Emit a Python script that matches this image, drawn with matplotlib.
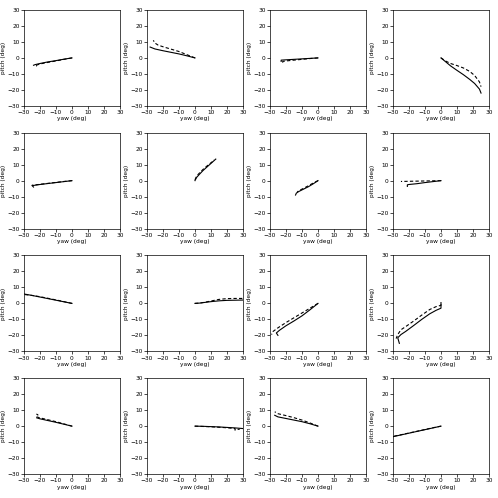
import matplotlib
matplotlib.use("Agg")
import matplotlib.pyplot as plt

# Each panel: (solid_x, solid_y, dashed_x, dashed_y)
p1_sx = [0, -5, -10, -15, -20, -23, -24]
p1_sy = [0, -0.8, -1.7, -2.5, -3.5, -4.2, -4.6]
p1_dx = [0, -5, -10, -15, -20, -22, -23, -22]
p1_dy = [0, -0.9, -1.9, -2.8, -3.8, -4.5, -5.0, -5.2]

p2_sx = [0, -5, -10, -15, -20, -25, -28]
p2_sy = [0, 1.3, 2.5, 3.5, 4.5, 5.6, 6.8]
p2_dx = [0, -5, -10, -15, -20, -23, -25, -26]
p2_dy = [0, 2.0, 4.0, 5.5, 7.0, 8.0, 9.3, 11.0]

p3_sx = [0, -5, -10, -15, -20, -23, -23]
p3_sy = [0, -0.3, -0.6, -0.9, -1.2, -1.4, -2.2]
p3_dx = [0, -5, -10, -15, -20, -22, -22]
p3_dy = [0, -0.4, -0.9, -1.4, -1.9, -2.2, -3.2]

p4_sx = [0, 3, 6, 10, 14, 18, 21, 24, 25]
p4_sy = [0, -2.5, -5.0, -7.8, -10.5, -13.5, -16.0, -19.5, -22.0]
p4_dx = [0, 3, 6, 10, 14, 18, 21, 24, 25]
p4_dy = [0, -2.0, -3.5, -4.8, -6.3, -8.5, -11.0, -15.0, -18.0]

p5_sx = [0, -5, -10, -15, -20, -24, -25, -24]
p5_sy = [0, -0.6, -1.2, -1.8, -2.4, -3.0, -3.0, -4.0]
p5_dx = [0, -5, -10, -15, -20, -25]
p5_dy = [0, -0.5, -1.1, -1.7, -2.3, -2.9]

p6_sx = [0, 1, 3, 5, 8, 11, 13]
p6_sy = [0, 2.0, 4.2, 6.3, 9.0, 11.7, 13.5]
p6_dx = [0, 1, 3, 5, 8, 11, 12]
p6_dy = [0.5, 2.8, 5.0, 7.0, 9.6, 12.0, 13.0]

p7_sx = [0, -3, -6, -9, -12, -13.5, -14]
p7_sy = [0, -2.0, -3.8, -5.3, -6.8, -7.8, -9.0]
p7_dx = [0, -3, -6, -9, -12, -13]
p7_dy = [0, -1.5, -3.2, -4.8, -6.3, -7.2]

p8_sx = [0, -5, -10, -15, -20, -21, -21]
p8_sy = [0, -0.6, -1.2, -1.9, -2.4, -2.6, -3.6]
p8_dx = [0, -5, -10, -15, -20, -25]
p8_dy = [0, -0.1, -0.2, -0.3, -0.4, -0.5]

p9_sx = [0, -5, -10, -15, -20, -25, -30]
p9_sy = [0, 1.0, 2.0, 3.0, 4.0, 5.0, 5.9]
p9_dx = [0, -5, -10, -15, -20, -25, -30]
p9_dy = [0, 1.1, 2.2, 3.2, 4.2, 5.0, 5.6]

p10_sx = [0, 3, 6, 10, 15, 20, 25, 30]
p10_sy = [0, 0.2, 0.6, 1.1, 1.6, 1.9, 2.0, 2.1]
p10_dx = [0, 3, 6, 10, 15, 20, 25, 30]
p10_dy = [0, 0.2, 0.7, 1.5, 2.5, 3.0, 3.1, 3.1]

p11_sx = [0, -5, -10, -15, -20, -24, -26, -25]
p11_sy = [0, -4.0, -7.8, -11.0, -14.0, -16.8, -18.5, -20.0]
p11_dx = [0, -5, -10, -15, -20, -25, -28, -29]
p11_dy = [0, -3.0, -6.0, -9.0, -12.0, -15.3, -17.5, -19.5]

p12_sx = [0, 0, -3, -7, -12, -17, -22, -25, -27, -26]
p12_sy = [0.5, -3.0, -4.3, -6.5, -10.0, -13.8, -17.5, -19.5, -21.5, -25.0]
p12_dx = [0, 0, -3, -7, -12, -17, -22, -25, -27, -28]
p12_dy = [-0.5, -1.2, -2.0, -3.8, -7.3, -11.0, -14.5, -16.5, -19.5, -22.0]

p13_sx = [0, -5, -10, -15, -20, -22]
p13_sy = [0, 1.2, 2.4, 3.5, 4.6, 5.2]
p13_dx = [0, -5, -10, -15, -20, -22, -22, -21]
p13_dy = [0, 1.4, 2.8, 4.0, 5.2, 5.8, 7.5, 6.8]

p14_sx = [0, 5, 10, 15, 20, 25, 30]
p14_sy = [0, -0.1, -0.3, -0.5, -0.8, -1.1, -1.5]
p14_dx = [0, 5, 10, 15, 20, 25, 25, 28]
p14_dy = [0, -0.2, -0.4, -0.7, -1.0, -1.5, -2.5, -1.8]

p15_sx = [0, -5, -10, -15, -20, -25, -27]
p15_sy = [0, 1.5, 2.8, 3.8, 4.8, 5.8, 6.8]
p15_dx = [0, -5, -10, -15, -20, -25, -27]
p15_dy = [0, 2.0, 3.8, 5.3, 6.6, 7.8, 9.0]

p16_sx = [0, -5, -10, -15, -20, -25, -30]
p16_sy = [0, -1.1, -2.2, -3.3, -4.4, -5.5, -6.6]
p16_dx = [0, -5, -10, -15, -20, -25, -30]
p16_dy = [0, -1.0, -2.1, -3.2, -4.3, -5.4, -6.4]

panels = [
    (p1_sx, p1_sy, p1_dx, p1_dy), (p2_sx, p2_sy, p2_dx, p2_dy),
    (p3_sx, p3_sy, p3_dx, p3_dy), (p4_sx, p4_sy, p4_dx, p4_dy),
    (p5_sx, p5_sy, p5_dx, p5_dy), (p6_sx, p6_sy, p6_dx, p6_dy),
    (p7_sx, p7_sy, p7_dx, p7_dy), (p8_sx, p8_sy, p8_dx, p8_dy),
    (p9_sx, p9_sy, p9_dx, p9_dy), (p10_sx, p10_sy, p10_dx, p10_dy),
    (p11_sx, p11_sy, p11_dx, p11_dy), (p12_sx, p12_sy, p12_dx, p12_dy),
    (p13_sx, p13_sy, p13_dx, p13_dy), (p14_sx, p14_sy, p14_dx, p14_dy),
    (p15_sx, p15_sy, p15_dx, p15_dy), (p16_sx, p16_sy, p16_dx, p16_dy),
]

ticks = [-30, -20, -10, 0, 10, 20, 30]
xlabel = "yaw (deg)"
ylabel = "pitch (deg)"

fig, axes = plt.subplots(4, 4, figsize=(4.98, 4.98), dpi=100)
fig.subplots_adjust(left=0.048, right=0.982, top=0.980, bottom=0.048,
                    wspace=0.28, hspace=0.28)

for ax, (sx, sy, dx, dy) in zip(axes.flat, panels):
    ax.plot(sx, sy, color="black", linestyle="-", linewidth=0.8)
    ax.plot(dx, dy, color="black", linestyle=(0, (3, 2)), linewidth=0.8)
    ax.set_xlim(-30, 30)
    ax.set_ylim(-30, 30)
    ax.set_xticks(ticks)
    ax.set_yticks(ticks)
    ax.tick_params(labelsize=4.2, length=2, width=0.5, pad=1)
    ax.set_xlabel(xlabel, fontsize=4.2, labelpad=1)
    ax.set_ylabel(ylabel, fontsize=4.2, labelpad=1)
    for s in ax.spines.values():
        s.set_linewidth(0.5)

fig.savefig("out.png", dpi=100)
